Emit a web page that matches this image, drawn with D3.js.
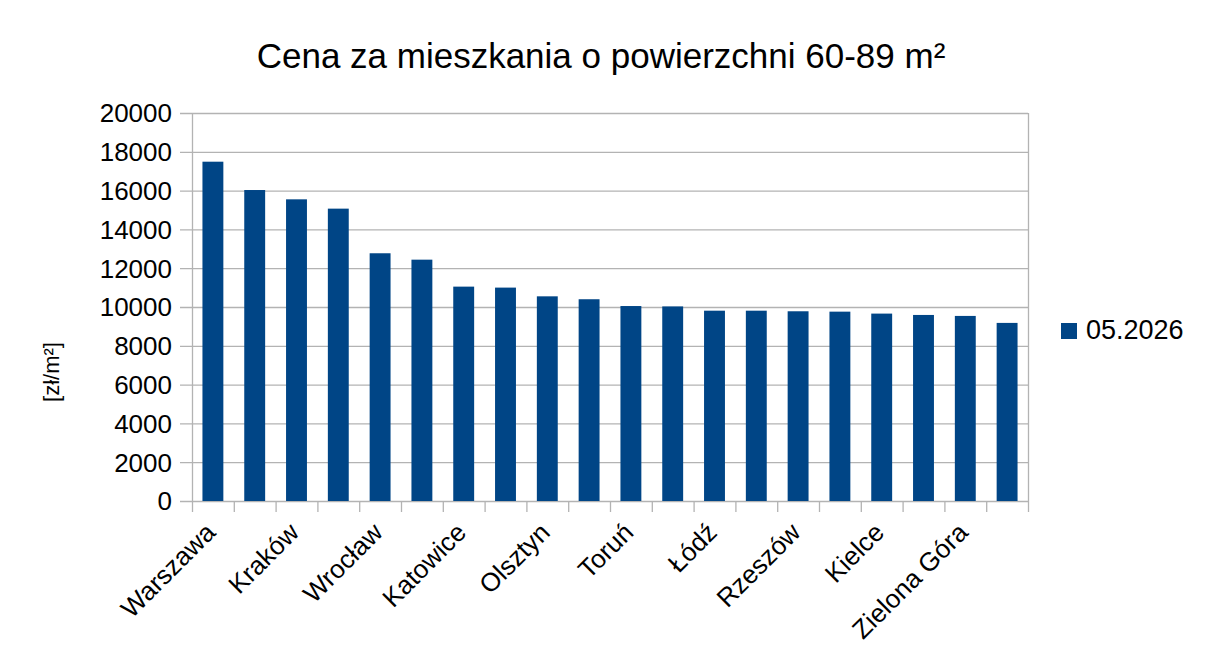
<!DOCTYPE html>
<html>
<head>
<meta charset="utf-8">
<script src="https://cdn.jsdelivr.net/npm/d3@7"></script>
<style>
  html, body { margin: 0; padding: 0; background: #ffffff; }
  svg { display: block; font-family: "Liberation Sans", Arial, sans-serif; }
</style>
</head>
<body>
<svg id="chart" width="1207" height="662"></svg>
<script>
const categories = ["Warszawa", "Gdańsk", "Kraków", "Gdynia", "Wrocław", "Poznań", "Katowice", "Lublin", "Olsztyn", "Szczecin",
  "Toruń", "Bydgoszcz", "Łódź", "Białystok", "Rzeszów", "Opole", "Kielce", "Gorzów Wielkopolski", "Zielona Góra", "Częstochowa"];
const shownLabels = ["Warszawa", "Kraków", "Wrocław", "Katowice", "Olsztyn", "Toruń", "Łódź", "Rzeszów", "Kielce", "Zielona Góra"];
const values = [17490, 16030, 15550, 15070, 12770, 12440, 11050, 11000, 10550, 10400,
  10050, 10030, 9810, 9810, 9780, 9760, 9660, 9590, 9540, 9180];
const yTicks = [0, 2000, 4000, 6000, 8000, 10000, 12000, 14000, 16000, 18000, 20000];
const seriesName = "05.2026";
const title = "Cena za mieszkania o powierzchni 60-89 m²";
const yTitle = "[zł/m²]";

const svg = d3.select("#chart");
const margin = { left: 192, right: 1028, top: 113, bottom: 501 };
const gridColor = "#b3b3b3";
const barColor = "#004586";

const x = d3.scaleBand().domain(categories).range([margin.left, margin.right]).paddingInner(0.5).paddingOuter(0.25);
const y = d3.scaleLinear().domain([0, 20000]).range([margin.bottom, margin.top]);

// gridlines
svg.append("g").selectAll("line").data(yTicks).join("line")
  .attr("x1", margin.left - 12).attr("x2", margin.right)
  .attr("y1", d => y(d) + 0.5).attr("y2", d => y(d) + 0.5)
  .attr("stroke", gridColor).attr("stroke-width", 1.3);

// right border
svg.append("line").attr("x1", margin.right + 0.5).attr("x2", margin.right + 0.5)
  .attr("y1", margin.top).attr("y2", margin.bottom).attr("stroke", gridColor).attr("stroke-width", 1.3);
// left axis
svg.append("line").attr("x1", margin.left + 0.5).attr("x2", margin.left + 0.5)
  .attr("y1", margin.top).attr("y2", margin.bottom).attr("stroke", gridColor).attr("stroke-width", 1.3);

// x ticks at category boundaries
const step = x.step();
const boundaries = d3.range(categories.length + 1).map(i => margin.left + i * step);
svg.append("g").selectAll("line").data(boundaries).join("line")
  .attr("x1", d => d + 0.5).attr("x2", d => d + 0.5)
  .attr("y1", margin.bottom).attr("y2", margin.bottom + 11)
  .attr("stroke", gridColor).attr("stroke-width", 1.3);

// bars
svg.append("g").selectAll("rect").data(categories).join("rect")
  .attr("x", d => x(d))
  .attr("width", x.bandwidth())
  .attr("y", (d, i) => y(values[i]))
  .attr("height", (d, i) => y(0) - y(values[i]))
  .attr("fill", barColor);

// y tick labels
svg.append("g").selectAll("text").data(yTicks).join("text")
  .attr("x", 172).attr("y", d => y(d))
  .attr("dy", "0.36em")
  .attr("text-anchor", "end")
  .attr("font-size", 26)
  .attr("fill", "#000")
  .text(d => d);

// x labels (every other)
svg.append("g").selectAll("text").data(categories.filter(c => shownLabels.includes(c))).join("text")
  .attr("transform", d => `translate(${x(d) + x.bandwidth() / 2 - 9},${521}) rotate(-45)`)
  .attr("text-anchor", "end")
  .attr("dy", "0.71em")
  .attr("font-size", 26)
  .attr("fill", "#000")
  .text(d => d);

// title
svg.append("text").attr("x", 601).attr("y", 68)
  .attr("text-anchor", "middle").attr("font-size", 35).attr("fill", "#000")
  .text(title);

// y axis title
svg.append("text").attr("transform", `translate(59,372) rotate(-90)`)
  .attr("text-anchor", "middle").attr("font-size", 22).attr("fill", "#000")
  .text(yTitle);

// legend
svg.append("rect").attr("x", 1061).attr("y", 323).attr("width", 16).attr("height", 16).attr("fill", barColor);
svg.append("text").attr("x", 1086).attr("y", 339).attr("font-size", 27).attr("fill", "#000").text(seriesName);
</script>
</body>
</html>
